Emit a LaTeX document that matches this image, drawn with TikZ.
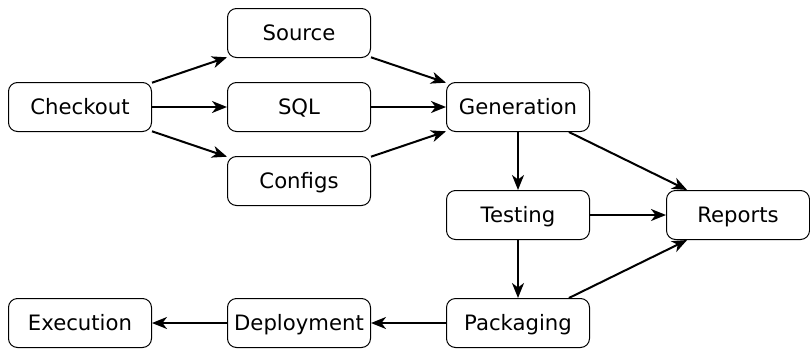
\documentclass[tikz,border=0pt]{standalone}
\usepackage{fontspec}
\setmainfont{DejaVu Sans}
\usetikzlibrary{arrows.meta}
\tikzset{
  box/.style={draw, line width=1pt, rounded corners=9pt, minimum width=143pt,
    minimum height=49pt, inner sep=0pt, text height=15.2pt, text depth=0pt,
    font=\fontsize{21.2}{25}\selectfont},
  flow/.style={line width=2pt, -{Stealth[length=15pt, width=12pt, inset=4.5pt]}}
}
\begin{document}
\begin{tikzpicture}[x=1pt, y=-1pt]
  \useasboundingbox (0,0) rectangle (810,351);
  % stage nodes
  \node[box] (checkout) at (80,107) {Checkout};
  \node[box] (source) at (299,33) {Source};
  \node[box] (sql) at (299,107) {SQL};
  \node[box] (configs) at (299,181) {Configs};
  \node[box] (gen) at (518,107) {Generation};
  \node[box] (test) at (518,215) {Testing};
  \node[box] (reports) at (738,215) {Reports};
  \node[box] (pack) at (518,323) {Packaging};
  \node[box] (deploy) at (299,323) {Deployment};
  \node[box] (exec) at (80,323) {Execution};
  % dependencies
  \draw[flow] (checkout) -- (source);
  \draw[flow] (checkout) -- (sql);
  \draw[flow] (checkout) -- (configs);
  \draw[flow] (source) -- (gen);
  \draw[flow] (sql) -- (gen);
  \draw[flow] (configs) -- (gen);
  \draw[flow] (gen) -- (test);
  \draw[flow] (gen) -- (reports);
  \draw[flow] (test) -- (reports);
  \draw[flow] (test) -- (pack);
  \draw[flow] (pack) -- (reports);
  \draw[flow] (pack) -- (deploy);
  \draw[flow] (deploy) -- (exec);
\end{tikzpicture}
\end{document}
